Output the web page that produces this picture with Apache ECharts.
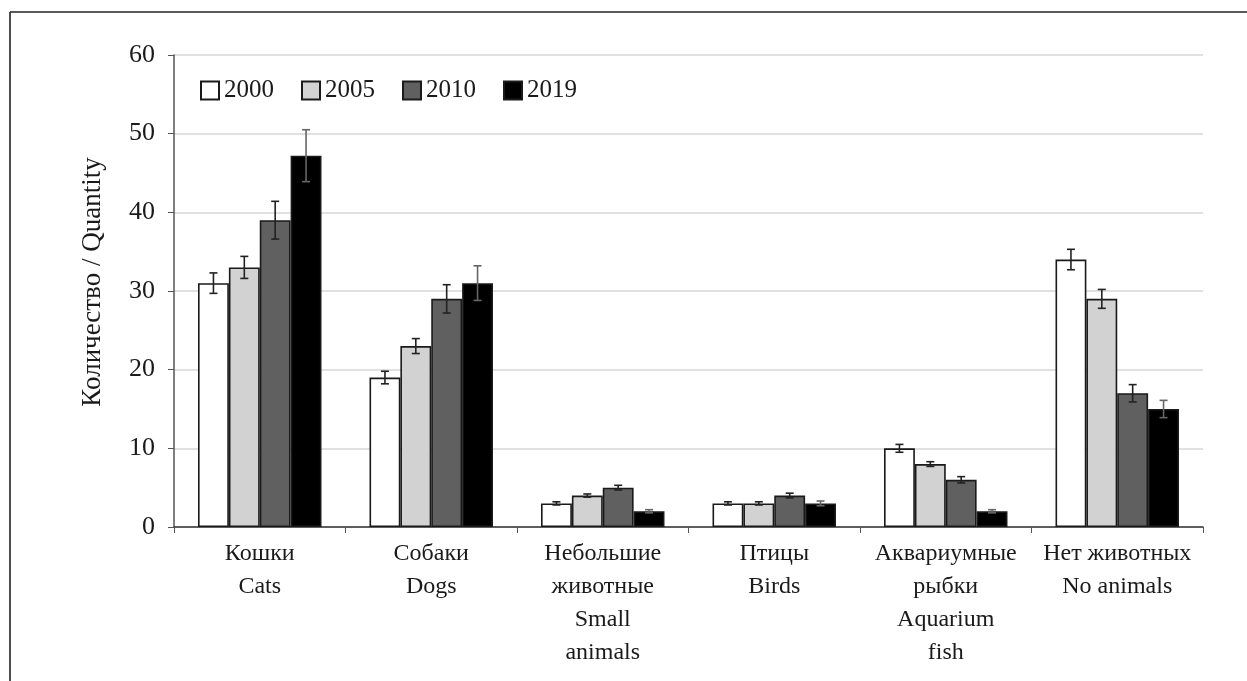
<!DOCTYPE html>
<html>
<head>
<meta charset="utf-8">
<script src="https://cdn.jsdelivr.net/npm/echarts@6/dist/echarts.min.js"></script>
<style>
  html, body { margin: 0; padding: 0; background: #fff; }
  #chart { width: 1247px; height: 681px; }
</style>
</head>
<body>
<div id="chart"></div>
<script>
// Pet ownership by survey year, with standard error bars
const categories = [
  'Кошки\nCats',
  'Собаки\nDogs',
  'Небольшие\nживотные\nSmall\nanimals',
  'Птицы\nBirds',
  'Аквариумные\nрыбки\nAquarium\nfish',
  'Нет животных\nNo animals'
];
const years = ['2000', '2005', '2010', '2019'];

const values2000 = [31, 19, 3, 3, 10, 34];
const values2005 = [33, 23, 4, 3, 8, 29];
const values2010 = [39, 29, 5, 4, 6, 17];
const values2019 = [47.2, 31, 2, 3, 2, 15];

const err2000 = [1.3, 0.8, 0.2, 0.2, 0.5, 1.3];
const err2005 = [1.4, 0.95, 0.2, 0.2, 0.3, 1.2];
const err2010 = [2.4, 1.8, 0.3, 0.3, 0.4, 1.1];
const err2019 = [3.3, 2.2, 0.2, 0.3, 0.2, 1.1];

const yTicks = [0, 10, 20, 30, 40, 50, 60];

const seriesValues = [values2000, values2005, values2010, values2019];
const seriesErrors = [err2000, err2005, err2010, err2019];
const fills = ['#ffffff', '#d2d2d2', '#606060', '#000000'];
const errColors = ['#222', '#222', '#222', '#666'];

const CAT_GAP = 0.28;
const SERIF = '"Liberation Serif", "DejaVu Serif", serif';

// error bar records: [categoryIndex, seriesIndex, value, error]
const errorData = [];
seriesValues.forEach((vals, s) => {
  vals.forEach((v, c) => errorData.push([c, s, v, seriesErrors[s][c]]));
});

const chart = echarts.init(document.getElementById('chart'), null, { renderer: 'canvas' });

const barSeries = years.map((y, i) => ({
  name: y,
  type: 'bar',
  data: seriesValues[i],
  barGap: '0%',
  barCategoryGap: (CAT_GAP * 100) + '%',
  itemStyle: { color: fills[i], borderColor: '#1a1a1a', borderWidth: 1.6 },
  emphasis: { disabled: true },
  animation: false
}));

const errorSeries = {
  type: 'custom',
  name: 'errors',
  data: errorData,
  encode: { x: 0, y: 2 },
  z: 5,
  animation: false,
  renderItem(params, api) {
    const cat = api.value(0);
    const s = api.value(1);
    const v = api.value(2);
    const e = api.value(3);
    const band = api.size([1, 0])[0];
    const bw = band * (1 - CAT_GAP) / 4;
    const cx = api.coord([cat, v])[0] + (s - 1.5) * bw;
    const yTop = api.coord([cat, v + e])[1];
    const yBot = api.coord([cat, v - e])[1];
    const cap = 4;
    const style = { stroke: errColors[s], lineWidth: 1.6 };
    return {
      type: 'group',
      children: [
        { type: 'line', shape: { x1: cx, y1: yTop, x2: cx, y2: yBot }, style },
        { type: 'line', shape: { x1: cx - cap, y1: yTop, x2: cx + cap, y2: yTop }, style },
        { type: 'line', shape: { x1: cx - cap, y1: yBot, x2: cx + cap, y2: yBot }, style }
      ]
    };
  }
};

chart.setOption({
  backgroundColor: '#ffffff',
  animation: false,
  textStyle: { fontFamily: SERIF, color: '#1a1a1a' },
  grid: { left: 174, right: 44, top: 55, bottom: 154 },
  legend: {
    data: years,
    left: 195,
    top: 73,
    itemWidth: 18,
    itemHeight: 18,
    itemGap: 27,
    icon: 'rect',
    selectedMode: false,
    textStyle: { fontFamily: SERIF, fontSize: 25, color: '#1a1a1a', padding: [0, 0, 0, 0] }
  },
  xAxis: {
    type: 'category',
    data: categories,
    axisLine: { lineStyle: { color: '#333', width: 1.5 } },
    axisTick: { show: true, length: 6, interval: 0, lineStyle: { color: '#555' } },
    axisLabel: {
      interval: 0,
      margin: 10,
      fontFamily: SERIF,
      fontSize: 24,
      lineHeight: 33,
      color: '#1a1a1a'
    },
    splitLine: { show: false }
  },
  yAxis: {
    type: 'value',
    min: yTicks[0],
    max: yTicks[yTicks.length - 1],
    interval: 10,
    name: 'Количество / Quantity',
    nameLocation: 'middle',
    nameRotate: 90,
    nameGap: 68,
    nameTextStyle: { fontFamily: SERIF, fontSize: 27, color: '#1a1a1a', padding: [0, 0, 0, 18] },
    axisLine: { show: true, lineStyle: { color: '#555', width: 1.5 } },
    axisTick: { show: true, length: 6, lineStyle: { color: '#555' } },
    axisLabel: { margin: 19, fontFamily: SERIF, fontSize: 26, color: '#1a1a1a' },
    splitLine: { show: true, lineStyle: { color: '#e0e0e0', width: 2 } }
  },
  graphic: [
    { type: 'line', shape: { x1: 10, y1: 12, x2: 1247, y2: 12 }, style: { stroke: '#222', lineWidth: 1.6 } },
    { type: 'line', shape: { x1: 10, y1: 12, x2: 10, y2: 681 }, style: { stroke: '#222', lineWidth: 1.6 } }
  ],
  series: [...barSeries, errorSeries]
});
</script>
</body>
</html>
